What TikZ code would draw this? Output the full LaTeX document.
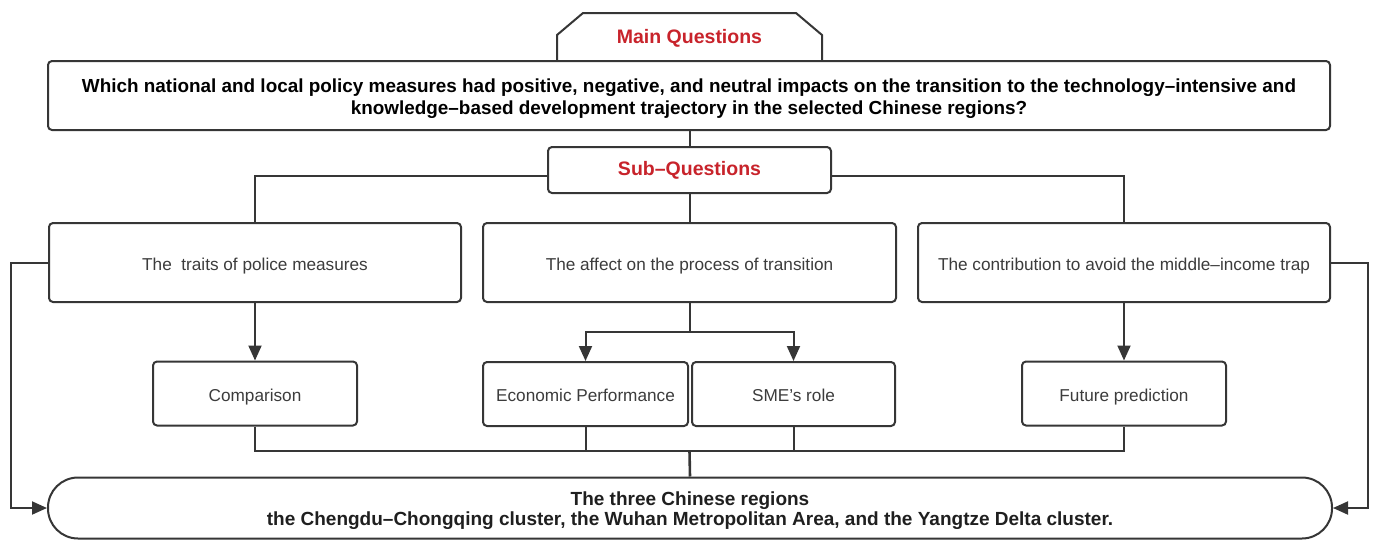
\documentclass[tikz,border=0pt]{standalone}
\usepackage{fontspec}
\setmainfont{Liberation Sans}
\usetikzlibrary{arrows.meta}
\definecolor{linec}{HTML}{363636}
\definecolor{txtc}{HTML}{3C3C3C}
\definecolor{redc}{HTML}{C8232B}
\tikzset{
  frame/.style={draw=linec, line width=2pt, rounded corners=4pt, fill=white, inner sep=0pt, align=center},
  box/.style={frame, text=txtc, font=\fontsize{17.2}{20}\selectfont, text height=15.5pt, text depth=0pt},
  conn/.style={draw=linec, line width=2pt},
  arr/.style={conn, -{Triangle[length=15pt,width=13pt]}},
  redtitle/.style={text=redc, font=\bfseries\fontsize{19.5}{22}\selectfont},
  boldtxt/.style={text=black, font=\bfseries\fontsize{18.9}{22}\selectfont}
}
\begin{document}
\begin{tikzpicture}[x=1pt,y=-1pt]
\useasboundingbox (0,0) rectangle (1374,539);
% title tab
\draw[linec, line width=2pt, fill=white] (557,62) -- (557,35) -- (583,13) -- (796,13) -- (822,35) -- (822,62);
\node[redtitle] (mainq) at (689.5,38.5) {Main Questions};
% main box
\node[frame, minimum width=1282pt, minimum height=69pt, boldtxt] (main) at (689,95.5)
  {\rule{0pt}{19.8pt}Which national and local policy measures had positive, negative, and neutral impacts on the transition to the technology--intensive and\\
   knowledge--based development trajectory in the selected Chinese regions?};
% sub questions
\node[frame, minimum width=283pt, minimum height=46pt, redtitle] (sub) at (689.5,170) {Sub--Questions};
% row 1
\node[box, minimum width=412pt, minimum height=79pt] (l1) at (255,262.5) {The\ \ traits of police measures};
\node[box, minimum width=413pt, minimum height=79pt] (m1) at (689.5,262.5) {The affect on the process of transition};
\node[box, minimum width=412pt, minimum height=79pt] (r1) at (1124,262.5) {The contribution to avoid the middle--income trap};
% row 2
\node[box, minimum width=204pt, minimum height=64pt] (comp) at (255,393.5) {Comparison};
\node[box, minimum width=205pt, minimum height=64pt] (econ) at (585.5,394) {Economic Performance};
\node[box, minimum width=203pt, minimum height=64pt] (sme) at (793.5,394) {SME's role};
\node[box, minimum width=204pt, minimum height=64pt] (fut) at (1124,393.5) {Future prediction};
% bottom
\node[frame, rounded corners=30pt, minimum width=1284pt, minimum height=61pt, text=black!88, font=\bfseries\fontsize{19}{20}\selectfont] (bot) at (690,508)
  {\rule{0pt}{19.9pt}The three Chinese regions\\
   the Chengdu--Chongqing cluster, the Wuhan Metropolitan Area, and the Yangtze Delta cluster.};
% connectors
\draw[conn] (main.south -| sub.north) -- (sub.north);
\draw[conn] ([yshift=-6pt]sub.west) -| (l1.north);
\draw[conn] ([yshift=-6pt]sub.east) -| (r1.north);
\draw[conn] (sub.south) -- (m1.north);
\draw[arr] (l1.south) -- (comp.north);
\draw[arr] (r1.south) -- (fut.north);
\coordinate (split) at (689.5,332);
\draw[conn] (m1.south) -- (split);
\draw[arr] (split) -| (econ.north);
\draw[arr] (split) -| (sme.north);
\coordinate (join) at (689.5,451);
\draw[conn] (comp.south) |- (join) -| (fut.south);
\draw[conn] (econ.south) -- (econ.south |- join);
\draw[conn] (sme.south) -- (sme.south |- join);
\draw[conn, line width=2.6pt] (join) -- (bot.north);
\draw[arr] (l1.west) -- ++(-37,0) |- (bot.west);
\draw[arr] (r1.east) -- ++(37,0) |- (bot.east);
\end{tikzpicture}
\end{document}
